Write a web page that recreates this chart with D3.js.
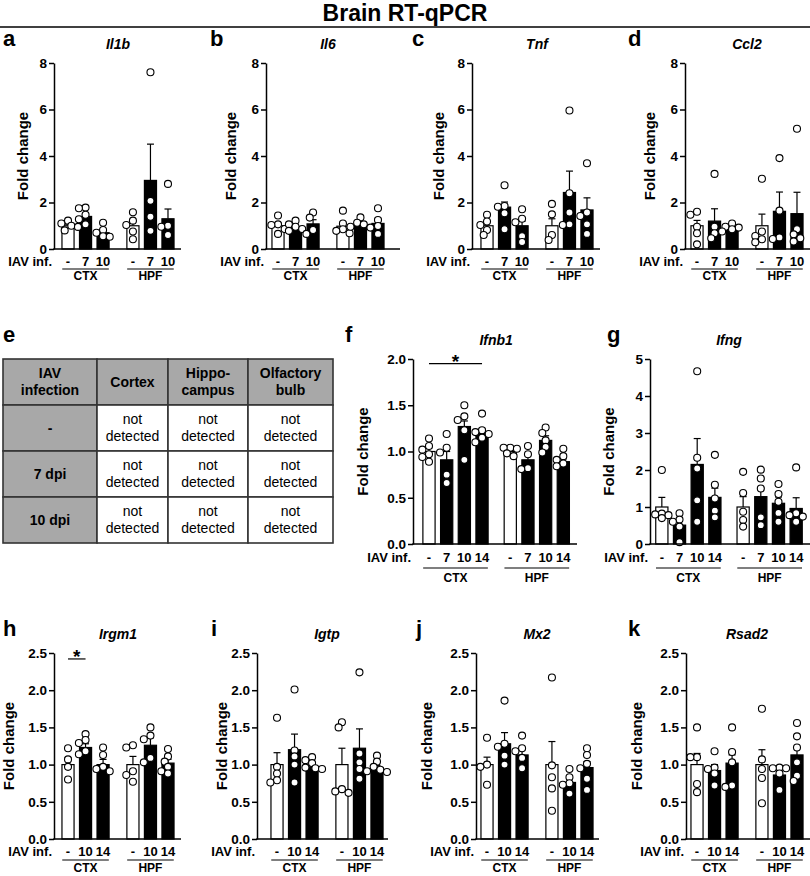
<!DOCTYPE html>
<html><head><meta charset="utf-8">
<script src="https://cdn.jsdelivr.net/npm/d3@7"></script>
<style>
body{margin:0;background:#fff}
svg{display:block}
text{font-family:"Liberation Sans",Arial,Helvetica,sans-serif;fill:#000}
</style>
</head><body>
<svg id="fig" width="810" height="876"></svg>
<script>
// ---------------- DATA ----------------
const figTitle = "Brain RT-qPCR";
const regions = ["CTX", "HPF"];
const dosesA = ["-", "7", "10"];
const dosesB = ["-", "7", "10", "14"];
const dosesC = ["-", "10", "14"];
const xAxisLabel = "IAV inf.";
const yAxisLabel = "Fold change";

const ticks8 = [0, 2, 4, 6, 8];
const ticks2 = [0, 0.5, 1.0, 1.5, 2.0];
const ticks5 = [0, 1, 2, 3, 4, 5];
const ticks25 = [0, 0.5, 1.0, 1.5, 2.0, 2.5];

// Il1b
const il1bMean = [1.0, 1.4, 0.7, 1.0, 2.95, 1.3];
const il1bSem  = [0.07, 0.14, 0.1, 0.2, 1.56, 0.42];
const il1bPts  = [[1.22,1.1,1.0,0.95,0.8],[1.78,1.75,1.47,1.28,1.06],[1.13,0.82,0.7,0.55,0.53],
                  [1.58,1.22,1.03,0.75,0.42],[7.6,2.07,1.39,0.78],[2.8,1.0,0.96,0.6]];
// Il6
const il6Mean = [1.0, 0.95, 1.08, 0.98, 1.05, 1.1];
const il6Sem  = [0.12, 0.07, 0.18, 0.17, 0.08, 0.22];
const il6Pts  = [[1.44,1.06,1.03,0.86,0.65],[1.22,1.06,0.96,0.86,0.78],[1.57,1.35,0.82,0.65],
                 [1.65,1.1,0.85,0.78,0.68],[1.36,1.13,1.06,0.96,0.92],[1.75,1.25,0.99,0.65]];
// Tnf
const tnfMean = [1.0, 1.8, 1.0, 1.0, 2.43, 1.68];
const tnfSem  = [0.2, 0.22, 0.2, 0.3, 0.92, 0.52];
const tnfPts  = [[1.47,1.18,1.03,0.82,0.6],[2.74,1.85,1.82,1.54,0.85],[1.71,1.3,1.15,0.55,0.3],
                 [1.94,1.49,0.6,0.39],[5.96,2.4,1.57,1.06,1.03],[3.69,1.57,1.42,1.06,0.65]];
// Ccl2
const ccl2Mean = [1.0, 1.2, 0.85, 1.0, 1.62, 1.52];
const ccl2Sem  = [0.23, 0.53, 0.06, 0.5, 0.83, 0.92];
const ccl2Pts  = [[1.6,1.47,0.96,0.68,0.2],[3.23,0.96,0.68,0.46],[1.1,0.96,0.92,0.85,0.75],
                  [3.02,0.75,0.56,0.42,0.29],[3.91,1.65,0.5,0.43],[5.17,0.85,0.63,0.46,0.32]];
// Ifnb1
const ifnb1Mean = [1.0, 0.91, 1.27, 1.21, 1.0, 0.91, 1.12, 0.89];
const ifnb1Sem  = [0.04, 0.09, 0.06, 0.04, 0.02, 0.06, 0.05, 0.03];
const ifnb1Pts  = [[1.14,1.06,1.02,0.97,0.94,0.89],[1.19,1.04,0.99,0.75,0.66],[1.5,1.38,1.34,1.23,0.91],
                   [1.41,1.23,1.21,1.19,1.15,1.1],[1.04,1.04,1.03,0.98,0.95],[1.06,0.97,0.82,0.81],
                   [1.26,1.2,1.12,1.05,0.99],[1.03,0.95,0.91,0.87,0.84]];
// Ifng
const ifngMean = [1.0, 0.51, 2.15, 1.26, 1.0, 1.28, 1.1, 0.96];
const ifngSem  = [0.26, 0.14, 0.7, 0.25, 0.28, 0.23, 0.17, 0.29];
const ifngPts  = [[2.0,0.82,0.8,0.78,0.7],[0.83,0.66,0.6,0.47,0.05],[4.67,2.33,2.04,1.18,0.6],
                  [2.41,1.6,1.23,0.9,0.72],[1.95,1.38,0.87,0.65,0.47],[2.01,1.77,1.5,0.72,0.51],
                  [1.62,1.35,1.14,0.84,0.6],[2.07,0.83,0.78,0.74,0.6]];
// Irgm1
const irgm1Mean = [1.0, 1.23, 1.0, 1.0, 1.26, 1.02];
const irgm1Sem  = [0.09, 0.05, 0.07, 0.11, 0.1, 0.05];
const irgm1Pts  = [[1.22,1.07,0.97,0.8],[1.41,1.33,1.29,1.18,1.14],[1.23,1.13,0.97,0.94,0.91],
                   [1.26,1.23,0.91,0.86,0.77],[1.5,1.39,1.34,1.09,1.03],[1.21,1.11,1.04,0.97,0.91,0.88]];
// Igtp
const igtpMean = [1.0, 1.2, 0.97, 1.0, 1.22, 0.96];
const igtpSem  = [0.16, 0.21, 0.03, 0.22, 0.26, 0.03];
const igtpPts  = [[1.63,0.97,0.88,0.79,0.76],[2.01,1.19,1.11,1.0,0.76],[1.1,1.06,1.02,0.96,0.95,0.94],
                  [1.57,1.5,0.67,0.64,0.62],[2.24,1.15,1.03,0.94,0.81],[1.12,1.04,0.97,0.93,0.91,0.9]];
// Mx2
const mx2Mean = [1.0, 1.28, 1.13, 1.0, 0.76, 0.96];
const mx2Sem  = [0.1, 0.15, 0.07, 0.31, 0.06, 0.08];
const mx2Pts  = [[1.36,1.0,0.97,0.73],[1.86,1.28,1.24,1.12,1.0],[1.39,1.22,1.18,1.09,0.95],
                 [2.17,0.99,0.83,0.68,0.38],[0.94,0.83,0.75,0.73,0.61],[1.22,1.13,1.01,0.95,0.81,0.66]];
// Rsad2
const rsad2Mean = [1.0, 0.92, 1.02, 1.0, 0.86, 1.13];
const rsad2Sem  = [0.15, 0.08, 0.11, 0.2, 0.05, 0.1];
const rsad2Pts  = [[1.5,1.1,1.1,0.74,0.63],[1.18,0.96,0.94,0.88,0.72],[1.5,1.17,1.03,0.72,0.7],
                   [1.75,1.07,0.94,0.82,0.48],[0.96,0.95,0.95,0.88,0.66],[1.56,1.38,1.23,1.03,0.85,0.78]];

// significance annotations: [region, fromDose, toDose, yValue, label]
const sigIfnb1 = [["CTX", "-", "14", 1.95, "*"]];
const sigIrgm1 = [["CTX", "-", "10", 2.42, "*"]];

// table e
const tableHeader = ["IAV\ninfection", "Cortex", "Hippo-\ncampus", "Olfactory\nbulb"];
const tableRowLabels = ["-", "7 dpi", "10 dpi"];
const tableCell = "not\ndetected";

// ---------------- LAYOUT ----------------
const row1 = {yTop: 63, yBot: 249, labY: 17, lineY: 20, grpY: 31};
const row2 = {yTop: 359, yBot: 544, labY: 18, lineY: 24, grpY: 38};
const row3 = {yTop: 653, yBot: 839, labY: 17, lineY: 21, grpY: 33};
const W3 = 117.5, P3 = 0.19, W4 = 152, P4 = 0.13;

const panels = [
  {letter:"a", title:"Il1b",  row:row1, axisX:54,  bandStart:59.25,  bw:W3, gp:P3, axisEnd:181, letterX:3,   ylabOff:31, doses:dosesA, yMax:8,   ticks:ticks8,  fmt:d3.format("d"),   mean:il1bMean, sem:il1bSem, pts:il1bPts},
  {letter:"b", title:"Il6",   row:row1, axisX:266, bandStart:269.25, bw:W3, gp:P3, axisEnd:400, letterX:210, ylabOff:35, doses:dosesA, yMax:8,   ticks:ticks8,  fmt:d3.format("d"),   mean:il6Mean, sem:il6Sem, pts:il6Pts},
  {letter:"c", title:"Tnf",   row:row1, axisX:472, bandStart:478.25, bw:W3, gp:P3, axisEnd:600, letterX:412, ylabOff:33, doses:dosesA, yMax:8,   ticks:ticks8,  fmt:d3.format("d"),   mean:tnfMean, sem:tnfSem, pts:tnfPts},
  {letter:"d", title:"Ccl2",  row:row1, axisX:685, bandStart:688.25, bw:W3, gp:P3, axisEnd:810, letterX:628, ylabOff:35, doses:dosesA, yMax:8,   ticks:ticks8,  fmt:d3.format("d"),   mean:ccl2Mean, sem:ccl2Sem, pts:ccl2Pts},
  {letter:"f", title:"Ifnb1", row:row2, axisX:413, bandStart:420.15, bw:W4, gp:P4, axisEnd:577, letterX:345, ylabOff:50, doses:dosesB, yMax:2,   ticks:ticks2,  fmt:d3.format(".1f"), mean:ifnb1Mean, sem:ifnb1Sem, pts:ifnb1Pts, sig:sigIfnb1},
  {letter:"g", title:"Ifng",  row:row2, axisX:650, bandStart:653,    bw:W4, gp:P4, axisEnd:810, letterX:607, ylabOff:41, doses:dosesB, yMax:5,   ticks:ticks5,  fmt:d3.format("d"),   mean:ifngMean, sem:ifngSem, pts:ifngPts},
  {letter:"h", title:"Irgm1", row:row3, axisX:54,  bandStart:59.25,  bw:W3, gp:P3, axisEnd:181, letterX:3,   ylabOff:45, doses:dosesC, yMax:2.5, ticks:ticks25, fmt:d3.format(".1f"), mean:irgm1Mean, sem:irgm1Sem, pts:irgm1Pts, sig:sigIrgm1},
  {letter:"i", title:"Igtp",  row:row3, axisX:257, bandStart:268.25, bw:W3, gp:P3, axisEnd:388, letterX:211, ylabOff:35, doses:dosesC, yMax:2.5, ticks:ticks25, fmt:d3.format(".1f"), mean:igtpMean, sem:igtpSem, pts:igtpPts},
  {letter:"j", title:"Mx2",   row:row3, axisX:476, bandStart:478.25, bw:W3, gp:P3, axisEnd:599, letterX:416, ylabOff:49, doses:dosesC, yMax:2.5, ticks:ticks25, fmt:d3.format(".1f"), mean:mx2Mean, sem:mx2Sem, pts:mx2Pts},
  {letter:"k", title:"Rsad2", row:row3, axisX:686, bandStart:688.25, bw:W3, gp:P3, axisEnd:810, letterX:628, ylabOff:49, doses:dosesC, yMax:2.5, ticks:ticks25, fmt:d3.format(".1f"), mean:rsad2Mean, sem:rsad2Sem, pts:rsad2Pts}
];

const svg = d3.select("#fig");
const FONT_TICK = 13, R = 3.5;

svg.append("text").attr("x", 405).attr("y", 21).attr("text-anchor", "middle")
  .attr("font-weight", "bold").attr("font-size", 23).text(figTitle);
svg.append("line").attr("x1", 0).attr("x2", 810).attr("y1", 27).attr("y2", 27)
  .attr("stroke", "#000").attr("stroke-width", 1.6);

function beeswarm(values, y, cx) {
  const order = values.map((v, i) => i).sort((a, b) => values[b] - values[a]);
  const placed = [];
  const step = R * 0.95;
  const cands = [0, -1, 1, -2, 2, -3, 3];
  order.forEach(i => {
    const py = y(values[i]);
    let px = cx;
    for (const k of cands) {
      const tx = cx + k * step;
      const ok = placed.every(p => Math.hypot(p.x - tx, p.y - py) >= 2 * R - 1.2);
      if (ok) { px = tx; break; }
    }
    placed.push({x: px, y: py});
  });
  return placed;
}

function drawPanel(cfg) {
  const rw = cfg.row;
  const g = svg.append("g");
  const y = d3.scaleLinear().domain([0, cfg.yMax]).range([rw.yBot, rw.yTop]);
  const xg = d3.scaleBand().domain(regions).range([cfg.bandStart, cfg.bandStart + cfg.bw])
    .paddingInner(cfg.gp).paddingOuter(0);
  const xd = d3.scaleBand().domain(cfg.doses).range([0, xg.bandwidth()])
    .paddingInner(0.31).paddingOuter(0.155);
  const bx = (r, d) => xg(r) + xd(d);
  const cxOf = (r, d) => xg(r) + xd(d) + xd.bandwidth() / 2;

  const items = [];
  regions.forEach((r, ri) => cfg.doses.forEach((d, di) => {
    const k = ri * cfg.doses.length + di;
    items.push({r, d, di, mean: cfg.mean[k], sem: cfg.sem[k], pts: cfg.pts[k]});
  }));

  // error bars
  items.forEach(it => {
    const cx = cxOf(it.r, it.d);
    g.append("line").attr("x1", cx).attr("x2", cx).attr("y1", y(it.mean)).attr("y2", y(it.mean + it.sem))
      .attr("stroke", "#000").attr("stroke-width", 1.2);
    g.append("line").attr("x1", cx - 3.5).attr("x2", cx + 3.5).attr("y1", y(it.mean + it.sem)).attr("y2", y(it.mean + it.sem))
      .attr("stroke", "#000").attr("stroke-width", 1.2);
  });
  // bars
  g.selectAll("rect.bar").data(items).join("rect").attr("class", "bar")
    .attr("x", d => bx(d.r, d.d)).attr("width", xd.bandwidth())
    .attr("y", d => y(d.mean)).attr("height", d => y(0) - y(d.mean))
    .attr("fill", d => d.di === 0 ? "#fff" : "#000")
    .attr("stroke", "#000").attr("stroke-width", 1.2);
  // dots
  items.forEach(it => {
    const pos = beeswarm(it.pts, y, cxOf(it.r, it.d));
    g.selectAll(null).data(pos).join("circle")
      .attr("cx", p => p.x).attr("cy", p => p.y).attr("r", R)
      .attr("fill", "#fff").attr("stroke", "#000").attr("stroke-width", 1.1);
  });

  // y axis
  const ax = g.append("g").attr("transform", `translate(${cfg.axisX},0)`)
    .call(d3.axisLeft(y).tickValues(cfg.ticks).tickFormat(cfg.fmt).tickSize(5).tickSizeOuter(0).tickPadding(2));
  ax.select(".domain").attr("stroke", "#000").attr("stroke-width", 1.5);
  ax.selectAll(".tick line").attr("stroke", "#000").attr("stroke-width", 1.5);
  ax.selectAll(".tick text").attr("font-size", FONT_TICK + 0.5).attr("font-weight", "bold")
    .attr("font-family", "Liberation Sans, Arial, sans-serif").attr("fill", "#000");
  // x baseline
  g.append("line").attr("x1", cfg.axisX - 0.75).attr("x2", cfg.axisEnd).attr("y1", y(0)).attr("y2", y(0))
    .attr("stroke", "#000").attr("stroke-width", 1.5);

  // x labels
  g.append("text").attr("x", cfg.axisX - 2).attr("y", rw.yBot + rw.labY).attr("text-anchor", "end")
    .attr("font-size", FONT_TICK).attr("font-weight", "bold").text(xAxisLabel);
  items.forEach(it => {
    g.append("text").attr("x", cxOf(it.r, it.d)).attr("y", rw.yBot + rw.labY).attr("text-anchor", "middle")
      .attr("font-size", FONT_TICK).attr("font-weight", "bold").text(it.d);
  });
  regions.forEach(r => {
    g.append("line").attr("x1", xg(r) + 3).attr("x2", xg(r) + xg.bandwidth() - 3)
      .attr("y1", rw.yBot + rw.lineY).attr("y2", rw.yBot + rw.lineY).attr("stroke", "#000").attr("stroke-width", 1.2);
    g.append("text").attr("x", xg(r) + xg.bandwidth() / 2).attr("y", rw.yBot + rw.grpY).attr("text-anchor", "middle")
      .attr("font-size", FONT_TICK - 1).attr("font-weight", "bold").text(r);
  });

  // y label
  g.append("text").attr("transform", `translate(${cfg.axisX - cfg.ylabOff},${(rw.yTop + rw.yBot) / 2}) rotate(-90)`)
    .attr("text-anchor", "middle").attr("dy", "0.35em").attr("font-size", 15).attr("font-weight", "bold").text(yAxisLabel);

  // title + letter
  g.append("text").attr("x", cfg.bandStart + cfg.bw / 2).attr("y", rw.yTop - 14).attr("text-anchor", "middle")
    .attr("font-size", 14).attr("font-weight", "bold").attr("font-style", "italic").text(cfg.title);
  g.append("text").attr("x", cfg.letterX).attr("y", rw.yTop - 17)
    .attr("font-size", 22).attr("font-weight", "bold").text(cfg.letter);

  // significance
  (cfg.sig || []).forEach(s => {
    const x1 = cxOf(s[0], s[1]), x2 = cxOf(s[0], s[2]), yy = y(s[3]);
    g.append("line").attr("x1", x1).attr("x2", x2).attr("y1", yy).attr("y2", yy)
      .attr("stroke", "#000").attr("stroke-width", 1.2);
    g.append("text").attr("x", (x1 + x2) / 2).attr("y", yy + 4).attr("text-anchor", "middle")
      .attr("font-size", 19).attr("font-weight", "bold").text(s[4]);
  });
}

panels.forEach(drawPanel);

// ---------------- TABLE (e) ----------------
(function drawTable() {
  const colX = [3, 97, 168, 248, 333];
  const rowY = [359, 405, 451, 497, 543];
  const tg = svg.append("g");
  tg.append("text").attr("x", 3).attr("y", row2.yTop - 17).attr("font-size", 22).attr("font-weight", "bold").text("e");
  const cells = [];
  for (let r = 0; r < 4; r++) for (let c = 0; c < 4; c++) {
    let txt, bold;
    if (r === 0) { txt = tableHeader[c]; bold = true; }
    else if (c === 0) { txt = tableRowLabels[r - 1]; bold = true; }
    else { txt = tableCell; bold = false; }
    cells.push({r, c, txt, bold, gray: r === 0 || c === 0});
  }
  cells.forEach(cl => {
    const x0 = colX[cl.c], x1 = colX[cl.c + 1], y0 = rowY[cl.r], y1 = rowY[cl.r + 1];
    tg.append("rect").attr("x", x0).attr("y", y0).attr("width", x1 - x0).attr("height", y1 - y0)
      .attr("fill", cl.gray ? "#a8a8a8" : "#fff").attr("stroke", "#333").attr("stroke-width", 1.6);
  });
  cells.forEach(cl => {
    const x0 = colX[cl.c], x1 = colX[cl.c + 1], y0 = rowY[cl.r], y1 = rowY[cl.r + 1];
    const lines = cl.txt.split("\n");
    const lh = 17;
    const cy = (y0 + y1) / 2;
    const t = tg.append("text").attr("x", (x0 + x1) / 2).attr("text-anchor", "middle")
      .attr("font-size", 14).attr("font-weight", cl.bold ? "bold" : "normal")
      .attr("fill", cl.bold ? "#111" : "#222");
    lines.forEach((ln, i) => {
      t.append("tspan").attr("x", (x0 + x1) / 2)
        .attr("y", cy + (i - (lines.length - 1) / 2) * lh).attr("dy", "0.35em").text(ln);
    });
  });
})();
</script>
</body></html>
